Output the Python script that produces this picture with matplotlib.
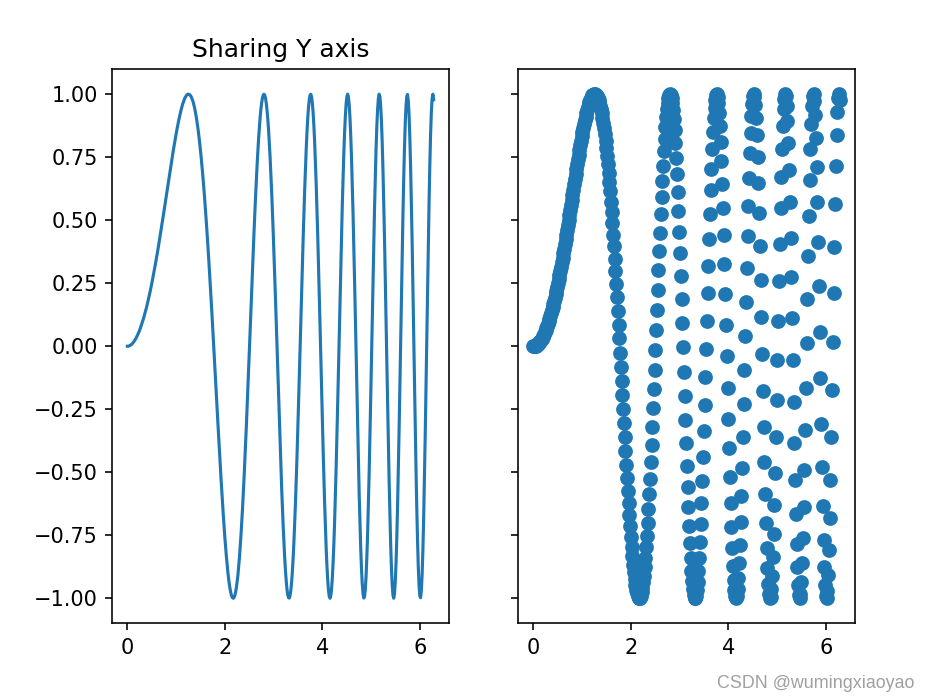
import numpy as np
import matplotlib

matplotlib.use("Agg")
import matplotlib.pyplot as plt

# sampled curve: 400 evenly spaced samples over [0, 2*pi]
X_START, X_END = 0.0, 2 * np.pi
y = [
    0.000, 0.000, 0.001, 0.002, 0.004, 0.006, 0.009, 0.012, 0.016, 0.020,
    0.025, 0.030, 0.036, 0.042, 0.049, 0.056, 0.063, 0.072, 0.080, 0.089,
    0.099, 0.109, 0.120, 0.131, 0.142, 0.154, 0.167, 0.180, 0.193, 0.207,
    0.221, 0.236, 0.251, 0.267, 0.283, 0.299, 0.316, 0.333, 0.350, 0.368,
    0.386, 0.405, 0.424, 0.443, 0.462, 0.481, 0.501, 0.521, 0.541, 0.561,
    0.581, 0.601, 0.621, 0.642, 0.662, 0.682, 0.702, 0.721, 0.741, 0.760,
    0.779, 0.797, 0.815, 0.833, 0.850, 0.866, 0.882, 0.897, 0.911, 0.925,
    0.937, 0.949, 0.960, 0.969, 0.977, 0.985, 0.990, 0.995, 0.998, 1.000,
    1.000, 0.998, 0.995, 0.991, 0.984, 0.976, 0.966, 0.953, 0.940, 0.924,
    0.906, 0.886, 0.864, 0.840, 0.814, 0.786, 0.755, 0.723, 0.689, 0.653,
    0.615, 0.574, 0.532, 0.489, 0.443, 0.396, 0.348, 0.298, 0.247, 0.194,
    0.141, 0.086, 0.031, -0.025, -0.081, -0.137, -0.194, -0.250, -0.306, -0.362,
    -0.416, -0.470, -0.522, -0.573, -0.622, -0.669, -0.714, -0.757, -0.796, -0.833,
    -0.867, -0.897, -0.924, -0.947, -0.966, -0.981, -0.992, -0.998, -1.000, -0.997,
    -0.989, -0.976, -0.959, -0.936, -0.910, -0.877, -0.840, -0.798, -0.752, -0.702,
    -0.647, -0.588, -0.526, -0.460, -0.391, -0.320, -0.246, -0.170, -0.093, -0.014,
    0.065, 0.144, 0.223, 0.301, 0.377, 0.451, 0.523, 0.591, 0.656, 0.717,
    0.773, 0.824, 0.869, 0.908, 0.941, 0.966, 0.985, 0.996, 1.000, 0.996,
    0.984, 0.964, 0.936, 0.900, 0.857, 0.806, 0.748, 0.684, 0.613, 0.537,
    0.455, 0.369, 0.280, 0.187, 0.092, -0.005, -0.101, -0.198, -0.293, -0.385,
    -0.474, -0.560, -0.639, -0.713, -0.780, -0.840, -0.890, -0.932, -0.965, -0.987,
    -0.998, -0.999, -0.989, -0.968, -0.936, -0.893, -0.840, -0.777, -0.704, -0.623,
    -0.535, -0.439, -0.338, -0.233, -0.123, -0.012, 0.099, 0.210, 0.319, 0.424,
    0.524, 0.618, 0.704, 0.781, 0.848, 0.904, 0.947, 0.978, 0.996, 1.000,
    0.989, 0.965, 0.927, 0.875, 0.810, 0.733, 0.645, 0.547, 0.441, 0.327,
    0.208, 0.085, -0.040, -0.164, -0.287, -0.405, -0.517, -0.622, -0.716, -0.800,
    -0.870, -0.926, -0.967, -0.992, -1.000, -0.991, -0.965, -0.921, -0.862, -0.787,
    -0.698, -0.595, -0.482, -0.360, -0.230, -0.096, 0.040, 0.177, 0.310, 0.438,
    0.558, 0.668, 0.765, 0.847, 0.913, 0.962, 0.991, 1.000, 0.989, 0.958,
    0.907, 0.837, 0.750, 0.646, 0.529, 0.399, 0.261, 0.117, -0.030, -0.177,
    -0.321, -0.458, -0.585, -0.700, -0.799, -0.881, -0.942, -0.982, -0.999, -0.993,
    -0.964, -0.912, -0.838, -0.744, -0.631, -0.503, -0.362, -0.212, -0.056, 0.102,
    0.257, 0.407, 0.547, 0.673, 0.783, 0.872, 0.940, 0.982, 1.000, 0.991,
    0.955, 0.894, 0.808, 0.701, 0.574, 0.430, 0.275, 0.111, -0.056, -0.222,
    -0.382, -0.532, -0.667, -0.783, -0.877, -0.946, -0.988, -1.000, -0.983, -0.936,
    -0.862, -0.761, -0.637, -0.493, -0.334, -0.164, 0.012, 0.188, 0.358, 0.517,
    0.661, 0.784, 0.882, 0.952, 0.991, 0.999, 0.973, 0.916, 0.828, 0.712,
    0.572, 0.413, 0.239, 0.057, -0.128, -0.309, -0.480, -0.635, -0.767, -0.874,
    -0.949, -0.991, -0.998, -0.970, -0.906, -0.809, -0.683, -0.531, -0.359, -0.174,
    0.018, 0.210, 0.395, 0.565, 0.715, 0.837, 0.928, 0.983, 1.000, 0.978,
]
x = np.linspace(X_START, X_END, len(y))
title = "Sharing Y axis"
watermark = "CSDN @wumingxiaoyao"

plt.rcParams["font.size"] = 10.35

fig, (ax1, ax2) = plt.subplots(1, 2, sharey=True, figsize=(6.4, 4.828), dpi=145)
fig.subplots_adjust(left=0.1207, right=0.9213, bottom=0.1093, top=0.9014, wspace=0.205)

ax1.plot(x, y, lw=1.55)
ax1.set_title(title)
ax2.scatter(x, y, s=40)

fig.text(0.985, 0.011, watermark, ha="right", va="bottom",
         color="#a0a0a0", fontsize=8.9, family="Liberation Sans")

fig.savefig("out.png", dpi=145)
plt.close(fig)
